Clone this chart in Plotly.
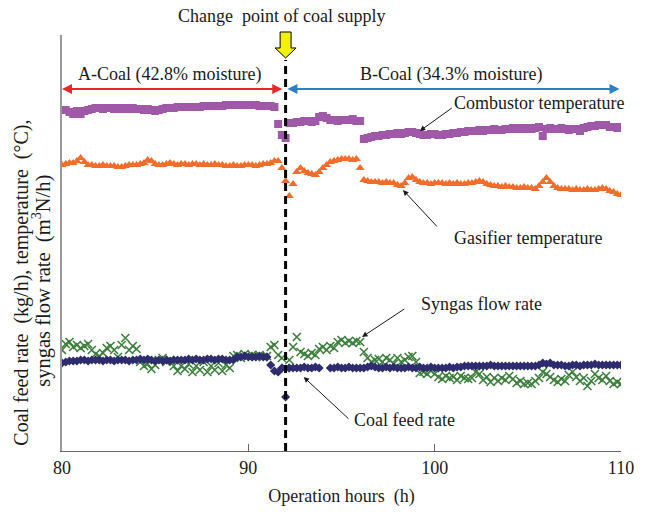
import plotly.graph_objects as go

# time grid (h), 0.2 h sampling
hours = [round(80 + 0.2 * i, 1) for i in range(151)]

# arbitrary plot units (axis has no numeric labels)
combustor_temp = [
    341, 341, 339, 337, 340, 337, 340, 341, 342, 343,
    343, 342, 343, 343, 342, 343, 342, 343, 342, 343,
    342, 342, 341, 342, 341, 340, 341, 342, 343, 343,
    343, 344, 344, 344, 344, 344, 344, 344, 345, 345,
    345, 345, 345, 345, 346, 346, 346, 346, 346, 346,
    346, 346, 346, 345, 345, 345, 345, 344, 327, 316,
    313, 328, 328, 329, 329, 330, 330, 329, 330, 334,
    335, 333, 331, 331, 330, 331, 331, 331, 332, 330,
    330, 312, 313, 314, 315, 315, 316, 316, 317, 317,
    318, 317, 318, 319, 319, 318, 317, 316, 316, 317,
    317, 316, 316, 317, 317, 318, 318, 319, 319, 320,
    320, 320, 321, 320, 321, 321, 322, 321, 321, 322,
    322, 323, 322, 323, 322, 323, 322, 323, 324, 315,
    322, 323, 322, 322, 323, 322, 321, 322, 322, 320,
    323, 324, 325, 325, 326, 326, 326, 324, 324, 323,
    324,
]

gasifier_temp = [
    286, 287, 288, 288, 290, 293, 289, 286, 286, 285,
    285, 286, 285, 285, 285, 284, 284, 285, 286, 286,
    286, 287, 288, 291, 290, 287, 286, 286, 287, 288,
    287, 286, 287, 287, 286, 287, 287, 286, 287, 286,
    286, 287, 286, 286, 285, 285, 286, 285, 285, 286,
    286, 286, 285, 286, 287, 287, 288, 290, 290, 283,
    270, 255, 267, 279, 283, 280, 278, 277, 276, 279,
    283, 286, 289, 290, 291, 292, 292, 292, 291, 292,
    283, 271, 270, 269, 269, 269, 268, 269, 268, 268,
    266, 265, 268, 273, 274, 271, 269, 268, 268, 267,
    268, 268, 268, 267, 268, 267, 268, 267, 267, 268,
    268, 269, 270, 269, 267, 266, 265, 265, 264, 265,
    264, 264, 263, 263, 264, 263, 263, 262, 265, 269,
    273, 269, 265, 263, 262, 262, 262, 261, 262, 261,
    261, 262, 261, 261, 262, 263, 262, 260, 259, 257,
    256,
]

syngas_flow = [
    101, 107, 109, 104, 106, 103, 105, 107, 101, 97,
    95, 98, 103, 105, 101, 94, 106, 113, 101, 105,
    102, 89, 85, 87, 82, 86, 91, 93, 89, 91,
    85, 80, 85, 82, 87, 79, 85, 81, 89, 79,
    85, 81, 88, 80, 86, 83, 95, 96, 93, 97,
    95, 96, 94, 96, 94, 95, 104, 106, 96, 93,
    83, 91, 104, 114, 99, 97, 95, 98, 96, 102,
    104, 101, 105, 103, 109, 111, 108, 110, 108, 110,
    109, 99, 93, 89, 91, 92, 89, 93, 91, 87,
    93, 89, 91, 94, 95, 89, 78, 79, 77, 80,
    77, 74, 72, 75, 73, 74, 71, 75, 73, 72,
    73, 79, 77, 71, 74, 69, 73, 70, 73, 71,
    75, 72, 68, 70, 67, 68, 67, 70, 73, 79,
    77, 74, 71, 69, 72, 70, 76, 79, 74, 70,
    73, 65, 70, 77, 73, 71, 75, 70, 67, 69,
    67,
]

coal_feed = [
    88, 89, 90, 90, 90, 91, 91, 90, 91, 91,
    91, 90, 91, 91, 90, 91, 91, 91, 90, 91,
    91, 92, 91, 92, 91, 90, 91, 90, 91, 90,
    91, 91, 91, 91, 92, 91, 92, 91, 91, 92,
    92, 91, 92, 92, 91, 91, 91, 94, 94, 95,
    94, 94, 94, 95, 94, 94, 86, 80, 79, 83,
    54, 83, 83, 83, 83, 84, 83, 83, 84, 83,
    None, None, 83, 83, 84, 83, 83, 84, 83, 83,
    83, 83, 84, 85, 84, 83, 83, 84, 83, 84,
    83, 83, 83, 84, 83, 83, 84, 83, 83, 84,
    83, 83, 83, 83, 84, 83, 84, 84, 85, 85,
    85, 85, 85, 85, 85, 86, 85, 85, 85, 85,
    85, 85, 85, 85, 85, 85, 85, 85, 86, 88,
    87, 88, 86, 86, 86, 85, 85, 86, 86, 85,
    86, 86, 86, 87, 86, 86, 86, 86, 86, 86,
    86,
]

x_ticks = [80, 90, 100, 110]
change_hour = 92

SERIF = "Liberation Serif, Times New Roman, serif"
FS = 18

fig = go.Figure()
fig.add_trace(go.Scatter(x=hours, y=combustor_temp, mode="markers", name="Combustor temperature",
                         marker=dict(symbol="square", size=8, color="#a058a8")))
fig.add_trace(go.Scatter(x=hours, y=gasifier_temp, mode="markers", name="Gasifier temperature",
                         marker=dict(symbol="triangle-up", size=8, color="#f26d2b")))
fig.add_trace(go.Scatter(x=hours, y=syngas_flow, mode="markers", name="Syngas flow rate",
                         marker=dict(symbol="x-thin", size=8, color="#3c7f3c",
                                     line=dict(width=1.6, color="#3c7f3c"))))
fig.add_trace(go.Scatter(x=hours, y=coal_feed, mode="markers", name="Coal feed rate",
                         marker=dict(symbol="diamond", size=7, color="#2d2c6e")))

# dashed change-point line
fig.add_shape(type="line", xref="x", yref="paper", x0=change_hour, x1=change_hour, y0=0, y1=0.94,
              line=dict(color="black", width=3, dash="8px,5px"))

# yellow arrow
fig.add_shape(type="path", xref="paper", yref="paper",
              path="M 0.3902,1.0072 L 0.4098,1.0072 L 0.4098,0.9688 L 0.4187,0.9688 "
                   "L 0.4,0.9447 L 0.3813,0.9688 L 0.3902,0.9688 Z",
              fillcolor="#f3f00c", line=dict(color="black", width=1))

ann = []
# coal period arrows
ann.append(dict(x=80, y=362, ax=91.9, ay=362, xref="x", yref="y", axref="x", ayref="y", text="",
                showarrow=True, arrowhead=2, arrowside="end+start", arrowsize=1, arrowwidth=2,
                arrowcolor="#e8262b", standoff=0, startstandoff=0))
ann.append(dict(x=92.1, y=362, ax=110, ay=362, xref="x", yref="y", axref="x", ayref="y", text="",
                showarrow=True, arrowhead=2, arrowside="end+start", arrowsize=1, arrowwidth=2,
                arrowcolor="#2a80c4", standoff=0, startstandoff=0))

def label(text, x, y, xref="x", yref="y", size=FS, **kw):
    d = dict(x=x, y=y, xref=xref, yref=yref, text=text, showarrow=False,
             xanchor="center", yanchor="middle",
             font=dict(family=SERIF, size=size, color="#1a1a1a"))
    d.update(kw)
    return d

ann.append(label("A-Coal (42.8% moisture)", 85.75, 377))
ann.append(label("B-Coal (34.3% moisture)", 100.9, 377))
ann.append(label("Change\u00a0 point of coal supply", 0.393, 1.045, xref="paper", yref="paper"))
ann.append(label("Combustor temperature", 105.6, 348))
ann.append(label("Gasifier temperature", 105.0, 213))
ann.append(label("Syngas flow rate", 102.5, 147))
ann.append(label("Coal feed rate", 98.4, 31))

def pointer(hx, hy, tx, ty):
    return dict(x=hx, y=hy, ax=tx, ay=ty, xref="x", yref="y", axref="x", ayref="y", text="",
                showarrow=True, arrowhead=2, arrowsize=1.1, arrowwidth=1, arrowcolor="#1a1a1a",
                standoff=0)

ann.append(pointer(99.2, 320, 101.0, 344))
ann.append(pointer(98.3, 261, 100.2, 223))
ann.append(pointer(96.1, 114, 98.45, 143))
ann.append(pointer(92.97, 74, 95.45, 31))

# y-axis title (two rotated lines)
ann.append(label("Coal feed rate\u00a0 (kg/h), temperature\u00a0 (\u00b0C),", -0.073, 0.405,
                 xref="paper", yref="paper", size=20, textangle=-90))
ann.append(label("syngas flow rate\u00a0 (m<sup>3</sup>N/h)", -0.036, 0.409,
                 xref="paper", yref="paper", size=20.5, textangle=-90))

fig.update_layout(
    width=646, height=514,
    margin=dict(l=62, r=22, t=35, b=63),
    paper_bgcolor="white", plot_bgcolor="white",
    showlegend=False,
    annotations=ann,
    font=dict(family=SERIF, size=FS, color="#1a1a1a"),
)
fig.update_xaxes(range=[80, 110], tickvals=x_ticks, ticks="inside", ticklen=7, tickcolor="#666",
                 showline=True, linecolor="#666", linewidth=1, showgrid=False, zeroline=False,
                 tickfont=dict(family=SERIF, size=FS, color="#1a1a1a"),
                 title=dict(text="Operation hours\u00a0 (h)", font=dict(family=SERIF, size=FS),
                            standoff=12))
fig.update_yaxes(range=[0, 416], showticklabels=False, ticks="", showline=True, linecolor="#999",
                 linewidth=1.5, showgrid=False, zeroline=False)

fig.write_html("out.html", config={"displayModeBar": False},
               post_script="document.body.style.margin='0px';")
